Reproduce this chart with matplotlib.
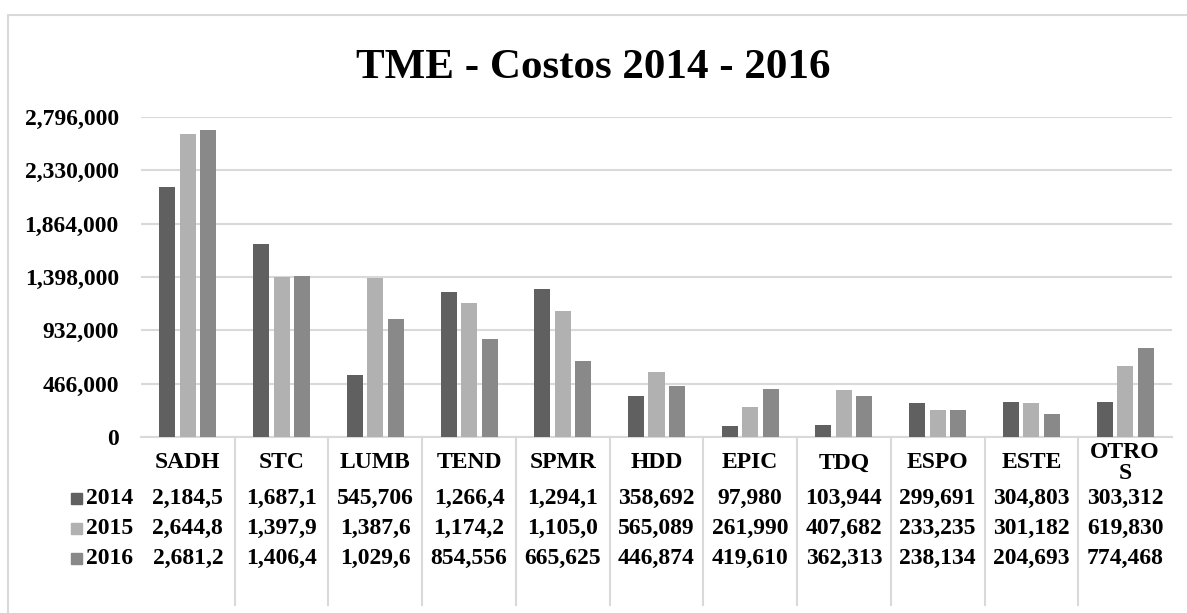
import matplotlib.pyplot as plt
from matplotlib.patches import Rectangle

plt.rcParams['font.family'] = ['Liberation Serif', 'DejaVu Serif']
plt.rcParams['font.weight'] = 'bold'

categories = ['SADH', 'STC', 'LUMB', 'TEND', 'SPMR', 'HDD', 'EPIC', 'TDQ', 'ESPO', 'ESTE', 'OTROS']
cat_labels = ['SADH', 'STC', 'LUMB', 'TEND', 'SPMR', 'HDD', 'EPIC', 'TDQ', 'ESPO', 'ESTE', 'OTRO\nS']
years = ['2014', '2015', '2016']
v2014 = [2184500, 1687100, 545706, 1266400, 1294100, 358692, 97980, 103944, 299691, 304803, 303312]
v2015 = [2644800, 1397900, 1387600, 1174200, 1105000, 565089, 261990, 407682, 233235, 301182, 619830]
v2016 = [2681200, 1406400, 1029600, 854556, 665625, 446874, 419610, 362313, 238134, 204693, 774468]
yticks = [0, 466000, 932000, 1398000, 1864000, 2330000, 2796000]
colors = ['#606060', '#b1b1b1', '#898989']

W, H = 1187, 613
FS = 17


def main():
    fig = plt.figure(figsize=(W / 100, H / 100), dpi=100)
    # plot area in pixels: left 141, right 1172, top 117, bottom 437
    ax = fig.add_axes([141 / W, (H - 437) / H, 1031 / W, 320 / H])

    # outer chart border
    fig.patches.append(Rectangle((8 / W, -0.05), 1.1, (H - 15) / H + 0.05,
                                 transform=fig.transFigure, fill=False,
                                 edgecolor='#d9d9d9', linewidth=1.5))

    series = [v2014, v2015, v2016]
    step = 0.219
    bw = 0.171
    for k, vals in enumerate(series):
        xs = [i + (k - 1) * step for i in range(len(categories))]
        ax.bar(xs, vals, width=bw, color=colors[k], zorder=3)

    ax.set_xlim(-0.5, len(categories) - 0.5)
    ax.set_ylim(0, yticks[-1])
    ax.set_yticks(yticks)
    ax.set_yticklabels([f'{t:,}' for t in yticks], fontsize=FS, fontweight='bold')
    ax.tick_params(axis='y', length=0, pad=16)
    ax.set_xticks([])
    ax.grid(axis='y', color='#d9d9d9', linewidth=1.5, zorder=0)
    for s in ['top', 'right', 'left']:
        ax.spines[s].set_visible(False)
    ax.spines['bottom'].set_color('#d9d9d9')
    ax.spines['bottom'].set_linewidth(1.5)

    fig.text(0.5, (H - 68) / H, 'TME - Costos 2014 - 2016', ha='center', va='center',
             fontsize=31, fontweight='bold')

    # data table under the axis: x in data units, y in axes fraction
    tr = ax.get_xaxis_transform()

    def ay(p):
        return (437 - p) / 320

    for i in range(1, len(categories)):
        ax.plot([i - 0.5, i - 0.5], [0, ay(605)], color='#d9d9d9', linewidth=1.5,
                transform=tr, clip_on=False, zorder=1)

    for i, lab in enumerate(cat_labels):
        ax.text(i, ay(463), lab, ha='center', va='center', fontsize=FS,
                fontweight='bold', linespacing=1.0, transform=tr, clip_on=False)

    row_y = [498, 528, 558]
    for k, vals in enumerate(series):
        y = ay(row_y[k])
        for i, v in enumerate(vals):
            ax.text(i, y, f'{v:,}'[:7], ha='center', va='center', fontsize=FS,
                    fontweight='bold', transform=tr, clip_on=False)
        ax.text(-8 / 1031, y, years[k], ha='right', va='center', fontsize=FS,
                fontweight='bold', transform=ax.transAxes, clip_on=False)
        sq = Rectangle((71 / W, (H - row_y[k] - 6) / H), 11 / W, 11 / H,
                       transform=fig.transFigure, color=colors[k])
        fig.patches.append(sq)

    fig.savefig('out.png', dpi=100)


if __name__ == '__main__':
    main()
